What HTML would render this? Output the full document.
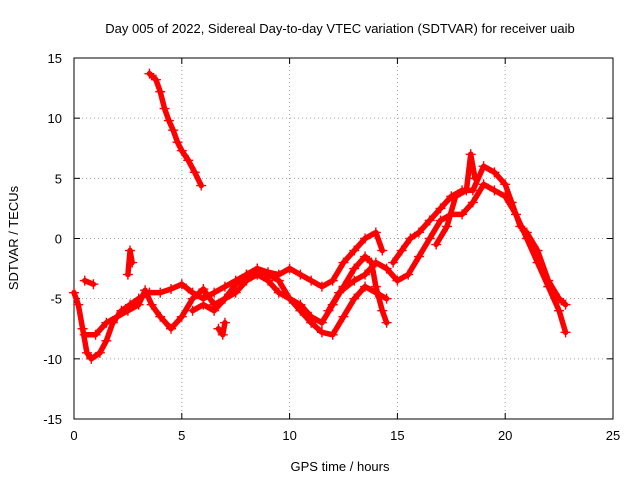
<!DOCTYPE html>
<html><head><meta charset="utf-8"><style>
body{margin:0;background:#fff}
svg{display:block;font-family:"Liberation Sans",sans-serif;font-size:13px}
</style></head><body>
<svg id="chart" width="640" height="480">
<text x="340" y="33" text-anchor="middle">Day 005 of 2022, Sidereal Day-to-day VTEC variation (SDTVAR) for receiver uaib</text>
<text x="340" y="471" text-anchor="middle">GPS time / hours</text>
<text transform="translate(18,238) rotate(-90)" text-anchor="middle">SDTVAR / TECUs</text>
<g id="grid"></g><g id="axes"></g><g id="series"></g>
</svg>
<script>
const xTicks=[0,5,10,15,20,25];
const yTicks=[-15,-10,-5,0,5,10,15];
const trackA=[[3.5,13.7],[3.8,13.2],[4.0,12.2],[4.2,10.8],[4.4,9.8],[4.6,9.0],[4.8,8.0],[5.0,7.3],[5.3,6.5],[5.6,5.5],[5.9,4.4]];
const trackB=[[0,-4.5],[0.2,-5.5],[0.4,-7.5],[0.6,-9.5],[0.8,-10],[1.2,-9.5],[1.5,-8.5],[1.8,-7],[2.2,-6],[2.6,-5.5],[3,-5],[3.5,-4.5],[4,-4.5],[4.5,-4.2],[5,-3.8],[5.5,-4.5],[6,-5],[6.5,-4.5],[7,-4],[7.5,-3.5],[8,-3],[8.5,-2.5],[9,-3],[9.5,-3.5],[10,-5],[10.5,-6],[11,-7],[11.5,-7.8],[12,-8],[12.5,-6.5],[13,-5],[13.5,-4],[14,-4.5],[14.5,-5]];
const trackC=[[0.5,-8],[1,-8],[1.5,-7],[2,-6.5],[2.5,-6],[3,-5.5],[3.3,-4.3],[3.6,-5.5],[4,-6.5],[4.5,-7.5],[5,-6.5],[5.5,-5],[6,-4.2],[6.5,-5.5],[7,-5],[7.5,-4.5],[8,-3.5],[8.5,-3],[9,-3.5],[9.5,-4.5],[10,-5],[10.5,-5.5],[11,-6.5],[11.5,-7],[12,-5.5],[12.5,-4],[13,-2.5],[13.5,-1.5],[13.8,-2],[14,-4],[14.3,-6],[14.5,-7]];
const trackD=[[5.5,-6],[6,-5.5],[6.5,-6],[7,-5],[7.5,-3.8],[8,-3],[8.5,-2.5],[9,-2.8],[9.5,-3],[10,-2.5],[10.5,-3],[11,-3.5],[11.5,-4],[12,-3.5],[12.5,-2],[13,-1],[13.5,0],[14,0.5],[14.3,-1]];
const trackE=[[6.7,-7.5],[6.9,-8],[7,-7]];
const trackF=[[11.8,-6],[12.3,-4.5],[13,-3.5],[13.5,-3],[14,-2],[14.5,-2.5],[15,-3.5],[15.5,-3],[16,-1.5],[16.5,0],[17,1.5],[17.5,2],[18,2],[18.5,3],[19,4.5],[19.5,4],[20,3.5],[20.5,2],[21,0],[21.5,-2],[22,-4],[22.5,-6],[22.8,-7.8]];
const trackG=[[14.8,-2],[15.2,-1],[15.6,0],[16,0.5],[16.5,1.5],[17,2.5],[17.5,3.5],[18,4],[18.5,4],[19,6],[19.5,5.5],[20,4.5],[20.3,3],[20.7,1],[21,0.5],[21.5,-1],[22,-3.5],[22.5,-5],[22.8,-5.5]];
const trackH=[[0.5,-3.5],[0.9,-3.8]];
const trackI=[[2.5,-3],[2.6,-1],[2.7,-2]];
const trackJ=[[16.8,-0.5],[17.3,1],[17.7,3.5],[18.2,4],[18.4,7],[18.6,5]];
const tracks=[trackA,trackB,trackC,trackD,trackE,trackF,trackG,trackH,trackI,trackJ];

const L=74,R=613,T=58,B=419;
const sx=v=>L+(v-0)/25*(R-L);
const sy=v=>B-(v+15)/30*(B-T);
const NS="http://www.w3.org/2000/svg";
function mk(tag,attrs,parent){const e=document.createElementNS(NS,tag);for(const k in attrs)e.setAttribute(k,attrs[k]);parent.appendChild(e);return e;}
const grid=document.getElementById('grid'),axes=document.getElementById('axes'),ser=document.getElementById('series');
xTicks.forEach(t=>{const x=sx(t);
 if(t>0&&t<25){const g=mk('line',{x1:x,x2:x,y1:T,y2:B,stroke:'#a0a0a0','stroke-dasharray':'1,3'},grid);
 
 }
 mk('line',{x1:x,x2:x,y1:B,y2:B-6,stroke:'#000'},axes);
 mk('line',{x1:x,x2:x,y1:T,y2:T+6,stroke:'#000'},axes);
 const lb=mk('text',{x:x,y:B+21,'text-anchor':'middle'},axes);lb.textContent=t;
 
 
});
yTicks.forEach(t=>{const y=sy(t);
 if(t>-15&&t<15){const g=mk('line',{x1:L,x2:R,y1:y,y2:y,stroke:'#a0a0a0','stroke-dasharray':'1,3'},grid);
 
 }
 mk('line',{x1:L,x2:L+6,y1:y,y2:y,stroke:'#000'},axes);
 mk('line',{x1:R,x2:R-6,y1:y,y2:y,stroke:'#000'},axes);
 const lb=mk('text',{x:L-12,y:y+5,'text-anchor':'end'},axes);lb.textContent=t;
 
 
});
const fr=mk('rect',{x:L,y:T,width:R-L,height:B-T,fill:'none',stroke:'#000'},axes);


tracks.forEach(tr=>{
 const pl=mk('polyline',{points:tr.map(p=>sx(p[0])+','+sy(p[1])).join(' '),fill:'none',stroke:'#f00','stroke-width':5.5,'stroke-linejoin':'round','stroke-linecap':'round'},ser);
 
 
 tr.forEach(p=>{const x=sx(p[0]),y=sy(p[1]);
  const m=mk('path',{d:`M${x-5},${y}H${x+5}M${x},${y-5}V${y+5}`,stroke:'#f00','stroke-width':1.4},ser);
  
  
 });
});
</script>
</body></html>
